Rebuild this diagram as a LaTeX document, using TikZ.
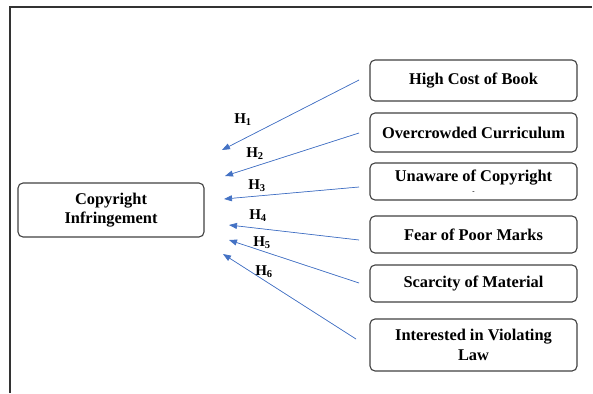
\documentclass[tikz,border=0pt]{standalone}
\usepackage{fontspec}
\setmainfont{Liberation Serif}
\usetikzlibrary{positioning, arrows.meta}
\definecolor{arrowblue}{HTML}{4472C4}

\begin{document}
\begin{tikzpicture}[x=1pt, y=-1pt,
    box/.style={draw=black!75, line width=1.1pt, rounded corners=5pt, align=center,
        font=\fontsize{16.4}{19.5}\selectfont\bfseries, inner sep=0pt},
    link/.style={-{Triangle[length=8pt,width=6pt]}, draw=arrowblue, fill=arrowblue, line width=0.7pt},
    hlab/.style={font=\fontsize{15}{16}\selectfont\bfseries, inner sep=0pt}]
    \useasboundingbox (0,0) rectangle (593,393);
    \draw[black!80, line width=1.5pt] (10,393) -- (10,7) -- (592,7);

    % dependent variable
    \node[box, minimum width=186, minimum height=54] (ci) at (111,210) {Copyright\\Infringement};

    % factors
    \node[box, minimum width=207, minimum height=41] (c1) at (473.5,80.5) {High Cost of Book};
    \node[box, minimum width=207, minimum height=39] (c2) at (473.5,132.5) {Overcrowded Curriculum};
    \node[box, minimum width=207, minimum height=37] (c3) at (473.5,181.5) {Unaware of Copyright\\[-7pt]{\scriptsize -}};
    \node[box, minimum width=207, minimum height=37] (c4) at (473.5,234.5) {Fear of Poor Marks};
    \node[box, minimum width=207, minimum height=37] (c5) at (473.5,283.5) {Scarcity of Material};
    \node[box, minimum width=207, minimum height=52] (c6) at (473.5,345) {Interested in Violating\\Law};

    % hypotheses
    \foreach \i/\s/\e/\h in {1/{359,80}/{222,150}/{243,120}, 2/{359,133}/{225,176}/{255,154},
            3/{359,187}/{224,199}/{257,186}, 4/{359,240}/{229,225}/{258,216},
            5/{359,283}/{229,240}/{262,243}, 6/{356,339}/{223,254}/{264,272}} {
        \coordinate (s\i) at (\s);
        \coordinate (e\i) at (\e);
        \draw[link] (s\i) -- (e\i);
        \node[hlab] (h\i) at (\h) {H\textsubscript{\i}};
    }
\end{tikzpicture}
\end{document}
